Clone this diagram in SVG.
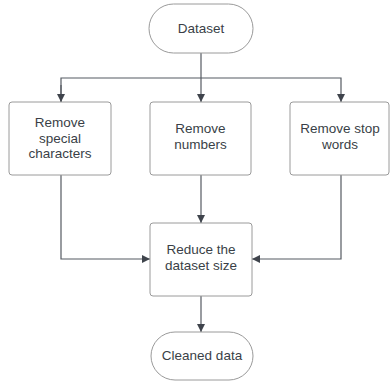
<svg xmlns="http://www.w3.org/2000/svg" width="390" height="381" viewBox="0 0 390 381">
  <style>
    .shape { fill: #ffffff; stroke: #9a9a9a; stroke-width: 1; }
    .label { font-family: "Liberation Sans", Arial, sans-serif; font-size: 13.5px; fill: #3a3f47; text-anchor: middle; }
    .wire { fill: none; stroke: #555a62; stroke-width: 1.2; }
  </style>
  <defs>
    <marker id="arrow" viewBox="0 0 10 10" refX="10" refY="5" markerWidth="8" markerHeight="8" markerUnits="userSpaceOnUse" orient="auto">
      <path d="M0,0 L10,5 L0,10 z" fill="#3f444c"/>
    </marker>
  </defs>
  <rect width="390" height="381" fill="#ffffff"/>

  <g id="connectors">
    <path class="wire" d="M201,53 V78"/>
    <path class="wire" d="M61,102 V78 H341 V102" marker-end="url(#arrow)"/>
    <path class="wire" d="M61,85 V102" marker-end="url(#arrow)"/>
    <path class="wire" d="M201,78 V102" marker-end="url(#arrow)"/>
    <path class="wire" d="M61,175 V259 H150" marker-end="url(#arrow)"/>
    <path class="wire" d="M341,175 V259 H252" marker-end="url(#arrow)"/>
    <path class="wire" d="M201,175 V223" marker-end="url(#arrow)"/>
    <path class="wire" d="M201,296 V332" marker-end="url(#arrow)"/>
  </g>

  <g id="dataset">
    <rect class="shape" x="149" y="4" width="104" height="49" rx="24.5"/>
    <text class="label" x="201" y="33">Dataset</text>
  </g>

  <g id="remove-special">
    <rect class="shape" x="9" y="102" width="102" height="73" rx="3"/>
    <text class="label" x="60" y="127">Remove</text>
    <text class="label" x="60" y="142.5">special</text>
    <text class="label" x="60" y="158">characters</text>
  </g>

  <g id="remove-numbers">
    <rect class="shape" x="150" y="102" width="101" height="73" rx="3"/>
    <text class="label" x="200.5" y="133">Remove</text>
    <text class="label" x="200.5" y="148.5">numbers</text>
  </g>

  <g id="remove-stop">
    <rect class="shape" x="290" y="102" width="99" height="73" rx="3"/>
    <text class="label" x="340" y="133">Remove stop</text>
    <text class="label" x="340" y="148.5">words</text>
  </g>

  <g id="reduce">
    <rect class="shape" x="150" y="223" width="102" height="73" rx="3"/>
    <text class="label" x="201" y="254">Reduce the</text>
    <text class="label" x="201" y="269.5">dataset size</text>
  </g>

  <g id="cleaned">
    <rect class="shape" x="151" y="332" width="102" height="48" rx="24"/>
    <text class="label" x="202" y="360">Cleaned data</text>
  </g>
</svg>
